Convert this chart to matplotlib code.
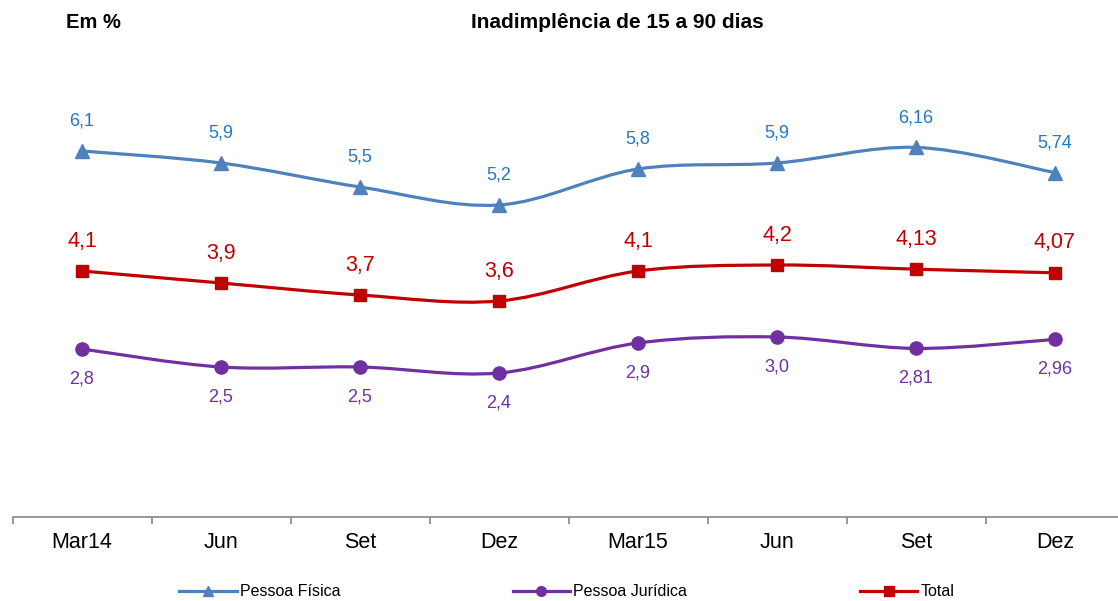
import matplotlib.pyplot as plt
from matplotlib.path import Path
from matplotlib.patches import PathPatch
from matplotlib.lines import Line2D

plt.rcParams['font.family'] = ['Liberation Sans', 'DejaVu Sans']

# Data
categorias = ['Mar14', 'Jun', 'Set', 'Dez', 'Mar15', 'Jun', 'Set', 'Dez']
pessoa_fisica = [6.1, 5.9, 5.5, 5.2, 5.8, 5.9, 6.16, 5.74]
pessoa_juridica = [2.8, 2.5, 2.5, 2.4, 2.9, 3.0, 2.81, 2.96]
total = [4.1, 3.9, 3.7, 3.6, 4.1, 4.2, 4.13, 4.07]
rot_pf = ['6,1', '5,9', '5,5', '5,2', '5,8', '5,9', '6,16', '5,74']
rot_pj = ['2,8', '2,5', '2,5', '2,4', '2,9', '3,0', '2,81', '2,96']
rot_total = ['4,1', '3,9', '3,7', '3,6', '4,1', '4,2', '4,13', '4,07']


def smooth_path(xs, ys):
    # Excel-like smoothed line (Catmull-Rom as cubic Bezier)
    pts = list(zip(xs, ys))
    n = len(pts)
    verts = [pts[0]]
    codes = [Path.MOVETO]
    for i in range(n - 1):
        p0 = pts[i - 1] if i > 0 else pts[i]
        p1 = pts[i]
        p2 = pts[i + 1]
        p3 = pts[i + 2] if i + 2 < n else pts[i + 1]
        c1 = (p1[0] + (p2[0] - p0[0]) / 6, p1[1] + (p2[1] - p0[1]) / 6)
        c2 = (p2[0] - (p3[0] - p1[0]) / 6, p2[1] - (p3[1] - p1[1]) / 6)
        verts += [c1, c2, p2]
        codes += [Path.CURVE4] * 3
    return Path(verts, codes)


fig = plt.figure(figsize=(11.18, 6.01), dpi=100)
ax = fig.add_axes([12.5 / 1118, 1 - 517 / 601, 1112 / 1118, 480 / 601])

x = list(range(len(categorias)))
series = [
    (pessoa_fisica, rot_pf, '#4F81BD', '#1F78C8', '^', 10, 21.5, 13),
    (total, rot_total, '#C00000', '#C00000', 's', 9, 21.5, 15.5),
    (pessoa_juridica, rot_pj, '#7030A0', '#7030A0', 'o', 9.5, -21.5, 13),
]
for vals, rots, cor, cor_txt, mk, ms, dy, fs in series:
    ax.add_patch(PathPatch(smooth_path(x, vals), facecolor='none',
                           edgecolor=cor, lw=2.3, zorder=2))
    ax.plot(x, vals, linestyle='none', marker=mk, ms=ms, color=cor, zorder=3)
    for xi, v, r in zip(x, vals, rots):
        ax.annotate(r, (xi, v), xytext=(0, dy), textcoords='offset points',
                    ha='center', va='center', fontsize=fs, color=cor_txt)

ax.set_xlim(-0.5, 7.5)
ax.set_ylim(0, 8)
ax.set_yticks([])
for s in ['top', 'right', 'left']:
    ax.spines[s].set_visible(False)
ax.spines['bottom'].set_color('#868686')
ax.spines['bottom'].set_linewidth(1.2)
ax.set_xticks(x)
ax.set_xticklabels(categorias, fontsize=15.5)
ax.tick_params(axis='x', which='major', length=0, pad=11)
ax.set_xticks([i - 0.5 for i in range(len(categorias) + 1)], minor=True)
ax.tick_params(axis='x', which='minor', length=5, color='#868686', width=1.2)

fig.text(66 / 1118, 1 - 22 / 601, 'Em %', fontsize=14.5, fontweight='bold',
         ha='left', va='center')
fig.text(617 / 1118, 1 - 22 / 601, 'Inadimplência de 15 a 90 dias',
         fontsize=15, fontweight='bold', ha='center', va='center')

handles = [
    Line2D([], [], color='#4F81BD', lw=2.3, marker='^', ms=7),
    Line2D([], [], color='#7030A0', lw=2.3, marker='o', ms=7),
    Line2D([], [], color='#C00000', lw=2.3, marker='s', ms=7),
]
fig.legend(handles, ['Pessoa Física', 'Pessoa Jurídica', 'Total'],
           loc='center left', bbox_to_anchor=(179 / 1118, 1 - 592 / 601),
           ncol=3, frameon=False, fontsize=11.5, handlelength=3.6,
           handletextpad=0.2, columnspacing=10.8, borderpad=0,
           borderaxespad=0)

fig.savefig('out.png', dpi=100)
